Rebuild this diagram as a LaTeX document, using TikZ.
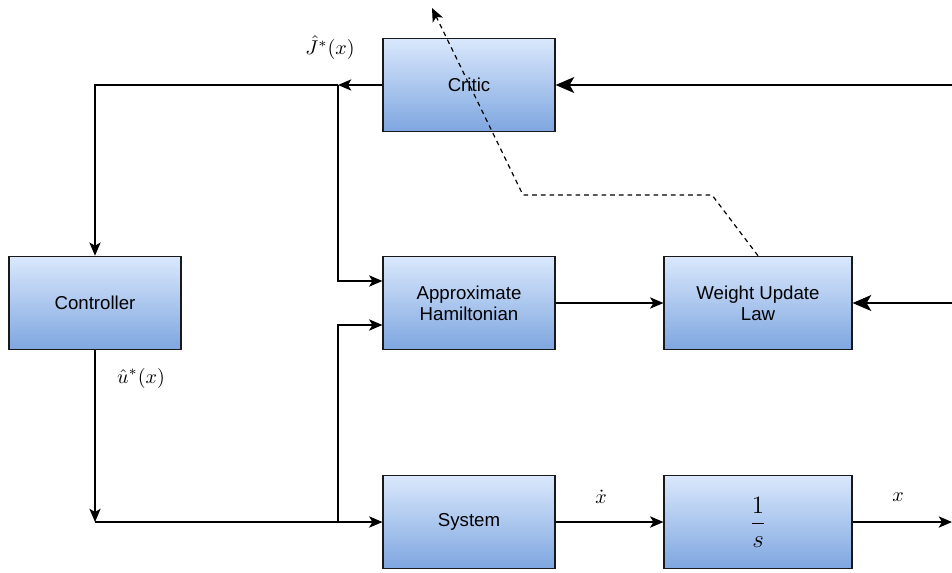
\documentclass[tikz,border=0pt]{standalone}
\usepackage{amsmath}
\usepackage{fontspec}
\setmainfont{Liberation Sans}
\usetikzlibrary{calc,arrows.meta}
\definecolor{gtop}{HTML}{DAE8FC}
\definecolor{gbot}{HTML}{7EA6E0}

\begin{document}
\begin{tikzpicture}[x={(0.75pt,0pt)},y={(0pt,-0.75pt)},
    blk/.style={draw=black!90,line width=0.9pt,top color=gtop,bottom color=gbot,
        minimum width=129pt,minimum height=70pt,align=center,font=\fontsize{14}{16}\selectfont},
    wblk/.style={blk,minimum width=141pt},
    arr/.style={line width=0.9pt,-{Stealth[length=10pt,width=8.5pt,inset=2.5pt]}},
    bigarr/.style={line width=0.9pt,-{Stealth[length=14pt,width=12pt,inset=3.5pt]}},
    lbl/.style={scale=1.5}]
	%\draw[help lines] (0,0) grid (952,572);
	\useasboundingbox (0,0) rectangle (952,572);

	% BLOCKS
	\node[blk] (critic) at (469,85) {Critic};
	\node[blk] (ctrl) at (95,303) {Controller};
	\node[blk] (ham) at (469,303) {Approximate\\Hamiltonian};
	\node[wblk] (wul) at (758,303) {Weight Update\\Law};
	\node[blk] (sys) at (469,522) {System};
	\node[wblk] (integ) at (758,522) {\scalebox{1.3}{$\dfrac{1}{s}$}};

	% points
	\coordinate (rin1) at (952,85);
	\coordinate (rin2) at (952,303);
	\coordinate (rout) at (952,522);
	\coordinate (jt) at (338,85);
	\coordinate (ju) at (95,522);
	\coordinate (jb) at (338,522);
	\coordinate (d1) at (712,195);
	\coordinate (d2) at (523,195);
	\coordinate (d3) at (432,8);

	% CONNECTORS
	\draw[bigarr] (rin1) -- (critic.east);
	\draw[arr] (critic.west) -- (jt);
	\draw[arr] (jt) -| (ctrl.north);
	\draw[arr] (jt) |- ($(ham.west)+(0,-22)$);
	\draw[arr] (ctrl.south) -- (ju);
	\draw[arr] (ju) -- (sys.west);
	\draw[arr] (jb) |- ($(ham.west)+(0,22)$);
	\draw[arr] (ham) -- (wul);
	\draw[bigarr] (rin2) -- (wul.east);
	\draw[arr] (sys) -- (integ);
	\draw[arr] (integ.east) -- (rout);

	% dashed update
	\draw[arr,dash pattern=on 3.5pt off 3pt] (wul.north) -- (d1) -- (d2) -- (d3);

	% LABELS
	\node[lbl] (jlab) at (330,48) {$\hat{J}^*(x)$};
	\node[lbl] (ulab) at (141,378) {$\hat{u}^*(x)$};
	\node[lbl] (xdlab) at (601,497) {$\dot{x}$};
	\node[lbl] (xlab) at (898,497) {$x$};
\end{tikzpicture}
\end{document}
